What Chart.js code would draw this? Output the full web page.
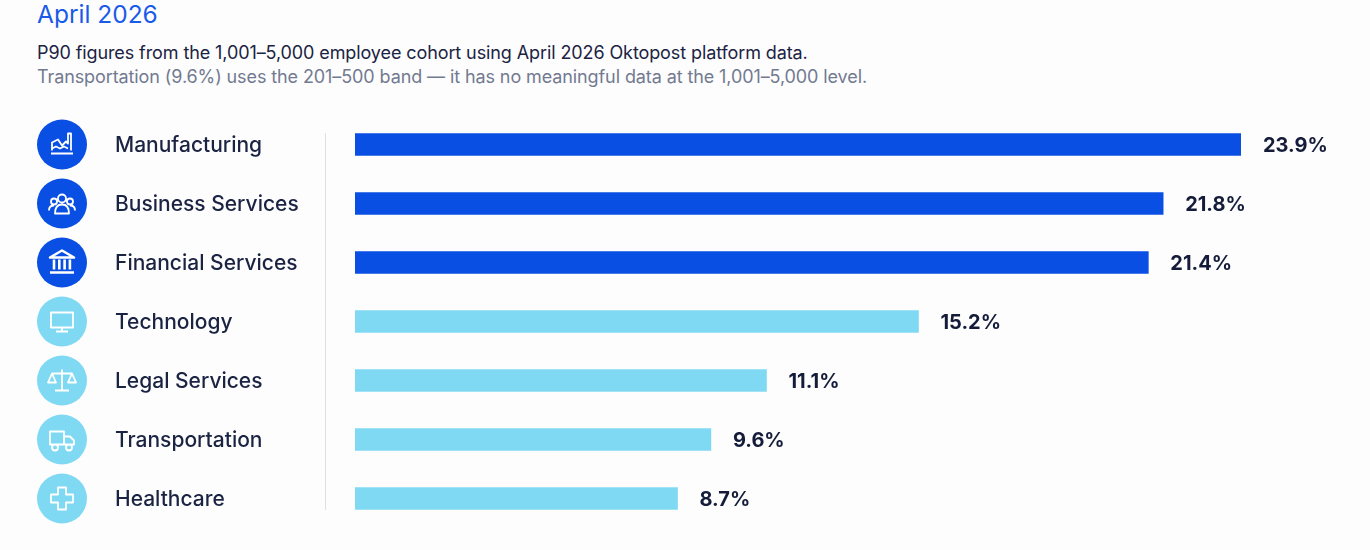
<!DOCTYPE html>
<html>
<head>
<meta charset="utf-8">
<script src="https://cdn.jsdelivr.net/npm/chart.js@4"></script>
<style>
  body { margin: 0; background: #fdfdfe; font-family: Inter, "Noto Sans", sans-serif; width: 1370px; height: 550px; overflow: hidden; position: relative; }
  #title { position: absolute; left: 37px; top: -1px; font-size: 24.5px; color: #1a5ae8; }
  #sub1 { position: absolute; left: 37px; top: 42px; font-size: 18px; color: #1b2342; letter-spacing: -0.1px; }
  #sub2 { position: absolute; left: 37px; top: 66px; font-size: 18px; color: #727a90; letter-spacing: -0.1px; }
  #wrap { position: absolute; left: 0; top: 115px; width: 1370px; height: 413px; }
</style>
</head>
<body>
<div id="title">April 2026</div>
<div id="sub1">P90 figures from the 1,001–5,000 employee cohort using April 2026 Oktopost platform data.</div>
<div id="sub2">Transportation (9.6%) uses the 201–500 band — it has no meaningful data at the 1,001–5,000 level.</div>
<div id="wrap"><canvas id="chart"></canvas></div>
<script>
const categories = ['Manufacturing', 'Business Services', 'Financial Services', 'Technology', 'Legal Services', 'Transportation', 'Healthcare'];
const values = [23.9, 21.8, 21.4, 15.2, 11.1, 9.6, 8.7];
const icons = ['factory', 'people', 'bank', 'monitor', 'scales', 'truck', 'cross'];

const DARK = '#0a4fe3';
const LIGHT = '#80d9f3';
const barColors = values.map((v, i) => i < 3 ? DARK : LIGHT);

function drawIcon(ctx, kind, cx, cy) {
    ctx.save();
    ctx.strokeStyle = '#fff';
    ctx.lineWidth = 1.8;
    ctx.lineJoin = 'round';
    ctx.beginPath();
    if (kind === 'factory') {
        ctx.moveTo(cx - 11, cy + 9); ctx.lineTo(cx + 11, cy + 9);
        ctx.moveTo(cx - 10, cy + 6); ctx.lineTo(cx - 10, cy - 2); ctx.lineTo(cx - 4, cy - 5);
        ctx.lineTo(cx, cy + 1); ctx.lineTo(cx + 4, cy - 3); ctx.lineTo(cx + 6, cy - 1);
        ctx.lineTo(cx + 6, cy - 11); ctx.lineTo(cx + 9, cy - 11); ctx.lineTo(cx + 9, cy + 6);
        ctx.moveTo(cx - 10, cy + 4); ctx.lineTo(cx - 6, cy + 2); ctx.lineTo(cx - 2, cy + 4); ctx.lineTo(cx + 2, cy + 2); ctx.lineTo(cx + 6, cy + 4);
    } else if (kind === 'people') {
        ctx.arc(cx, cy - 5, 4, 0, Math.PI * 2);
        ctx.moveTo(cx - 8 + 3, cy - 2); ctx.arc(cx - 8, cy - 2, 3, 0, Math.PI * 2);
        ctx.moveTo(cx + 8 + 3, cy - 2); ctx.arc(cx + 8, cy - 2, 3, 0, Math.PI * 2);
        ctx.moveTo(cx - 7, cy + 10); ctx.quadraticCurveTo(cx - 7, cy + 1, cx, cy + 1); ctx.quadraticCurveTo(cx + 7, cy + 1, cx + 7, cy + 10); ctx.closePath();
        ctx.moveTo(cx - 13, cy + 7); ctx.quadraticCurveTo(cx - 13, cy + 2, cx - 8, cy + 2);
        ctx.moveTo(cx + 13, cy + 7); ctx.quadraticCurveTo(cx + 13, cy + 2, cx + 8, cy + 2);
    } else if (kind === 'bank') {
        ctx.moveTo(cx - 12, cy - 5); ctx.lineTo(cx, cy - 12); ctx.lineTo(cx + 12, cy - 5); ctx.closePath();
        for (let k = -8; k <= 8; k += 5.3) { ctx.moveTo(cx + k, cy - 3); ctx.lineTo(cx + k, cy + 7); }
        ctx.moveTo(cx - 12, cy + 10); ctx.lineTo(cx + 12, cy + 10);
        ctx.lineWidth = 2.6;
    } else if (kind === 'monitor') {
        ctx.rect(cx - 11, cy - 9, 22, 15);
        ctx.moveTo(cx, cy + 6); ctx.lineTo(cx, cy + 10);
        ctx.moveTo(cx - 6, cy + 10); ctx.lineTo(cx + 6, cy + 10);
    } else if (kind === 'scales') {
        ctx.moveTo(cx, cy - 11); ctx.lineTo(cx, cy + 9);
        ctx.moveTo(cx - 7, cy + 10); ctx.lineTo(cx + 7, cy + 10);
        ctx.moveTo(cx - 10, cy - 7); ctx.lineTo(cx + 10, cy - 7);
        ctx.moveTo(cx - 10, cy - 7); ctx.lineTo(cx - 14, cy + 2); ctx.lineTo(cx - 6, cy + 2); ctx.closePath();
        ctx.moveTo(cx + 10, cy - 7); ctx.lineTo(cx + 6, cy + 2); ctx.lineTo(cx + 14, cy + 2); ctx.closePath();
    } else if (kind === 'truck') {
        ctx.rect(cx - 12, cy - 8, 14, 13);
        ctx.moveTo(cx + 2, cy - 3); ctx.lineTo(cx + 8, cy - 3); ctx.lineTo(cx + 12, cy + 1); ctx.lineTo(cx + 12, cy + 5); ctx.lineTo(cx + 2, cy + 5);
        ctx.moveTo(cx - 4, cy + 8); ctx.arc(cx - 7, cy + 8, 3, 0, Math.PI * 2);
        ctx.moveTo(cx + 10, cy + 8); ctx.arc(cx + 7, cy + 8, 3, 0, Math.PI * 2);
    } else if (kind === 'cross') {
        ctx.moveTo(cx - 4, cy - 11); ctx.lineTo(cx + 4, cy - 11); ctx.lineTo(cx + 4, cy - 4); ctx.lineTo(cx + 11, cy - 4);
        ctx.lineTo(cx + 11, cy + 4); ctx.lineTo(cx + 4, cy + 4); ctx.lineTo(cx + 4, cy + 11); ctx.lineTo(cx - 4, cy + 11);
        ctx.lineTo(cx - 4, cy + 4); ctx.lineTo(cx - 11, cy + 4); ctx.lineTo(cx - 11, cy - 4); ctx.lineTo(cx - 4, cy - 4); ctx.closePath();
    }
    ctx.stroke();
    ctx.restore();
}

const sidePlugin = {
    id: 'side',
    afterDatasetsDraw(chart) {
        const ctx = chart.ctx;
        const meta = chart.getDatasetMeta(0);
        const area = chart.chartArea;
        ctx.save();
        // divider
        ctx.strokeStyle = '#dde1ea';
        ctx.lineWidth = 1;
        ctx.beginPath();
        ctx.moveTo(325.5, area.top + 18);
        ctx.lineTo(325.5, area.bottom - 18);
        ctx.stroke();
        meta.data.forEach((bar, i) => {
            const y = bar.y;
            ctx.fillStyle = i < 3 ? DARK : LIGHT;
            ctx.beginPath();
            ctx.arc(62, y, 25, 0, Math.PI * 2);
            ctx.fill();
            drawIcon(ctx, icons[i], 62, y);
            ctx.fillStyle = '#1b2342';
            ctx.font = '500 21px Inter, "Noto Sans", sans-serif';
            ctx.textAlign = 'left';
            ctx.textBaseline = 'middle';
            ctx.fillText(categories[i], 115, y + 1);
            ctx.font = 'bold 20px Inter, "Noto Sans", sans-serif';
            ctx.fillStyle = '#141c3a';
            ctx.fillText(values[i].toFixed(1) + '%', bar.x + 22, y + 1);
        });
        ctx.restore();
    }
};

new Chart(document.getElementById('chart'), {
    type: 'bar',
    data: {
        labels: categories,
        datasets: [{
            data: values,
            backgroundColor: barColors,
            barThickness: 22,
            borderSkipped: false
        }]
    },
    options: {
        indexAxis: 'y',
        responsive: true,
        maintainAspectRatio: false,
        animation: false,
        layout: { padding: { left: 355, right: 129, top: 0, bottom: 0 } },
        plugins: { legend: { display: false }, tooltip: { enabled: false } },
        scales: {
            x: { min: 0, max: 23.9, display: false },
            y: { display: false }
        }
    },
    plugins: [sidePlugin]
});
</script>
</body>
</html>
